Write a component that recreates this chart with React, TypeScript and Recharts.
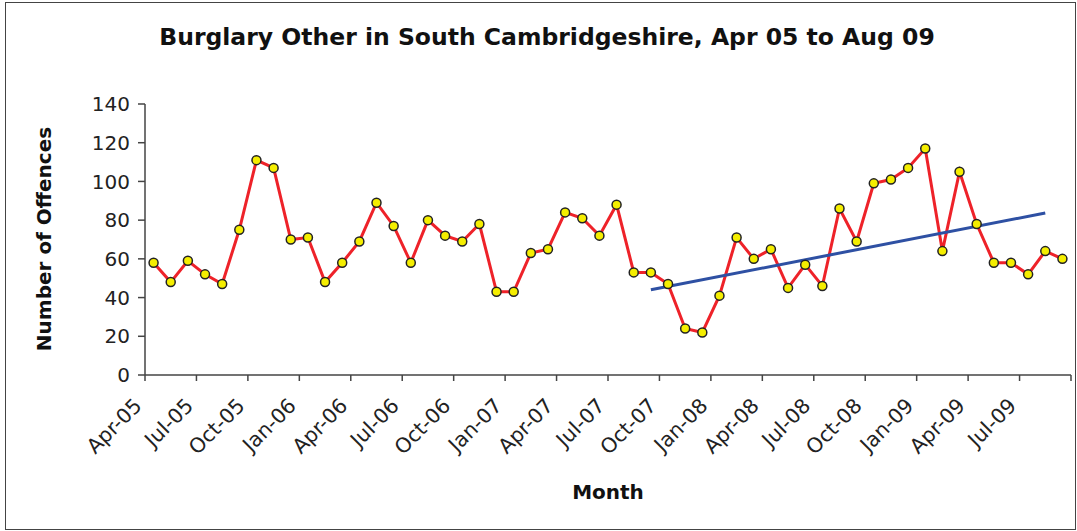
import React from 'react';
import { LineChart, Line, XAxis, YAxis } from 'recharts';

const MONTHS = [
  'Apr-05', 'May-05', 'Jun-05', 'Jul-05', 'Aug-05', 'Sep-05', 'Oct-05', 'Nov-05', 'Dec-05',
  'Jan-06', 'Feb-06', 'Mar-06', 'Apr-06', 'May-06', 'Jun-06', 'Jul-06', 'Aug-06', 'Sep-06',
  'Oct-06', 'Nov-06', 'Dec-06', 'Jan-07', 'Feb-07', 'Mar-07', 'Apr-07', 'May-07', 'Jun-07',
  'Jul-07', 'Aug-07', 'Sep-07', 'Oct-07', 'Nov-07', 'Dec-07', 'Jan-08', 'Feb-08', 'Mar-08',
  'Apr-08', 'May-08', 'Jun-08', 'Jul-08', 'Aug-08', 'Sep-08', 'Oct-08', 'Nov-08', 'Dec-08',
  'Jan-09', 'Feb-09', 'Mar-09', 'Apr-09', 'May-09', 'Jun-09', 'Jul-09', 'Aug-09', 'Sep-09',
];

const OFFENCES = [
  58, 48, 59, 52, 47, 75, 111, 107, 70,
  71, 48, 58, 69, 89, 77, 58, 80, 72,
  69, 78, 43, 43, 63, 65, 84, 81, 72,
  88, 53, 53, 47, 24, 22, 41, 71, 60,
  65, 45, 57, 46, 86, 69, 99, 101, 107,
  117, 64, 105, 78, 58, 58, 52, 64, 60,
];

// linear trend, only its two end points
const TREND = [
  { month: 'Sep-07', value: 44 },
  { month: 'Aug-09', value: 83.7 },
];

const Y_TICKS = [0, 20, 40, 60, 80, 100, 120, 140];

const data = MONTHS.map((month, i) => ({
  month,
  offences: OFFENCES[i],
  trend: TREND.find(t => t.month === month)?.value ?? null,
}));

const W = 1077;
const H = 531;
const LEFT = 145;
const RIGHT = 6;
const TOP = 104;
const X_AXIS_H = 156;
const HALF_BAND = (W - LEFT - RIGHT) / MONTHS.length / 2;

const FONT = "Tahoma, 'DejaVu Sans', sans-serif";
const AXIS = '#444';

// labels and tick marks sit on the category boundaries, every 3 months
const MonthTick = ({ x, y, payload, index }: any) => {
  const last = index === MONTHS.length - 1;
  if (index % 3 !== 0 && !last) return null;
  const bx = x - HALF_BAND;
  return (
    <g>
      {index % 3 === 0 && (
        <>
          <line x1={bx} y1={y} x2={bx} y2={y + 6} stroke={AXIS} strokeWidth={1.5} />
          <text
            transform={`translate(${bx - 2},${y + 32}) rotate(-45)`}
            textAnchor="end"
            fill="#222"
            style={{ fontSize: 20.5, fontFamily: FONT }}
          >
            {payload.value}
          </text>
        </>
      )}
      {last && <line x1={x + HALF_BAND} y1={y} x2={x + HALF_BAND} y2={y + 6} stroke={AXIS} strokeWidth={1.5} />}
    </g>
  );
};

export default function App() {
  return (
    <div style={{ position: 'relative', width: W, height: H, background: '#fff', fontFamily: FONT }}>
      <style>{'body{margin:0}'}</style>
      <LineChart width={W} height={H} data={data} margin={{ top: TOP, right: RIGHT, left: 0, bottom: 0 }}>
        <XAxis
          dataKey="month"
          height={X_AXIS_H}
          interval={0}
          padding={{ left: HALF_BAND, right: HALF_BAND }}
          tickSize={0}
          tickMargin={0}
          tickLine={false}
          tick={<MonthTick />}
          axisLine={{ stroke: AXIS, strokeWidth: 1.5 }}
        />
        <YAxis
          width={LEFT}
          domain={[0, 140]}
          ticks={Y_TICKS}
          interval={0}
          tickSize={7}
          tickMargin={8}
          axisLine={{ stroke: AXIS, strokeWidth: 1.5 }}
          tickLine={{ stroke: AXIS, strokeWidth: 1.5 }}
          tick={{ fill: '#222', fontSize: 20, fontFamily: FONT }}
        />
        <Line
          dataKey="offences"
          stroke="#ee2229"
          strokeWidth={3}
          dot={{ r: 4.5, fill: '#f5ee00', stroke: '#222', strokeWidth: 1.5 }}
          isAnimationActive={false}
        />
        <Line
          dataKey="trend"
          stroke="#2e50a3"
          strokeWidth={3}
          dot={false}
          connectNulls
          isAnimationActive={false}
        />
      </LineChart>

      <div style={{ position: 'absolute', left: 5, top: 2, width: 1069, height: 526, border: '1.5px solid #444', pointerEvents: 'none' }} />
      <div style={{ position: 'absolute', left: 0, top: 23, width: 1094, textAlign: 'center', fontSize: 23.5, fontWeight: 'bold', color: '#111' }}>
        Burglary Other in South Cambridgeshire, Apr 05 to Aug 09
      </div>
      <div style={{ position: 'absolute', left: 0, top: 480, width: 1216, textAlign: 'center', fontSize: 20, fontWeight: 'bold', color: '#111' }}>
        Month
      </div>
      <div style={{ position: 'absolute', left: 44, top: 239, transform: 'translate(-50%,-50%) rotate(-90deg)', whiteSpace: 'nowrap', fontSize: 20, fontWeight: 'bold', color: '#111' }}>
        Number of Offences
      </div>
    </div>
  );
}
